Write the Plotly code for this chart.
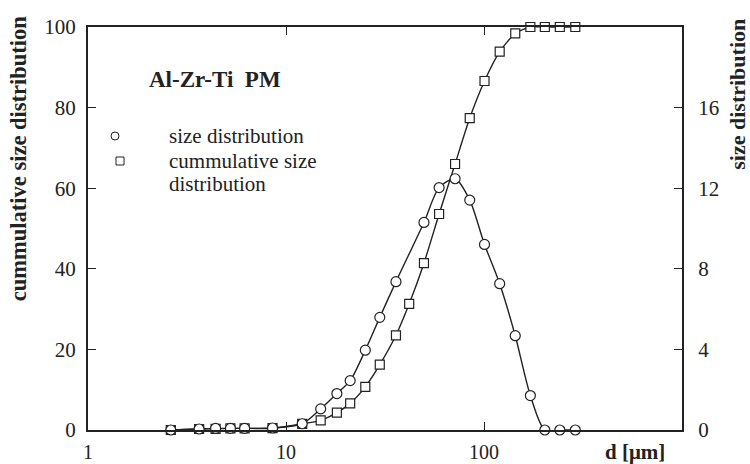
import plotly.graph_objects as go

# ---- data ----
d_um = [2.62, 3.64, 4.41, 5.24, 6.18, 8.55, 12.07, 14.97, 18.07, 21.09, 25.15, 29.76,
        35.92, 41.90, 49.74, 59.33, 71.43, 84.72, 100.6, 120.0, 143.8, 171.5, 202.9,
        241.5, 289.1]
cumulative = [0.0, 0.25, 0.3, 0.4, 0.4, 0.45, 1.5, 2.4, 4.3, 6.6, 10.7, 16.2,
              23.5, 31.3, 41.4, 53.6, 66.0, 77.4, 86.6, 93.9, 98.4, 100, 100, 100, 100]

d_size = [2.62, 3.64, 4.41, 5.24, 6.18, 8.55, 12.07, 14.97, 18.07, 21.09, 25.15, 29.76,
          35.92, 49.74, 59.33, 71.43, 84.72, 100.6, 120.0, 143.8, 171.5, 202.9,
          241.5, 289.1]
size_dist = [0.0, 0.05, 0.08, 0.08, 0.08, 0.1, 0.31, 1.05, 1.81, 2.45, 3.96, 5.59,
             7.36, 10.30, 12.03, 12.47, 11.41, 9.21, 7.26, 4.68, 1.71, 0.0, 0.0, 0.0]

x_ticks = [1, 10, 100]
y_left_ticks = [0, 20, 40, 60, 80, 100]
y_right_ticks = [0, 4, 8, 12, 16]

FONT = "Liberation Serif"
INK = "#222222"

fig = go.Figure()

fig.add_trace(go.Scatter(
    x=d_size, y=size_dist, yaxis="y2", mode="lines+markers",
    line=dict(color=INK, width=1.4, shape="spline", smoothing=0.8),
    marker=dict(symbol="circle", size=10, color="white", line=dict(color=INK, width=1.2)),
    showlegend=False, cliponaxis=False))

fig.add_trace(go.Scatter(
    x=d_um, y=cumulative, mode="lines+markers",
    line=dict(color=INK, width=1.4, shape="spline", smoothing=0.6),
    marker=dict(symbol="square", size=9, color="white", line=dict(color=INK, width=1.2)),
    showlegend=False, cliponaxis=False))

fig.update_layout(
    width=750, height=464,
    margin=dict(l=88, r=68, t=27, b=34, autoexpand=False),
    paper_bgcolor="white", plot_bgcolor="white",
    font=dict(family=FONT, size=20, color=INK),
    xaxis=dict(type="log", range=[0, 3], tickvals=x_ticks, ticktext=[str(v) for v in x_ticks],
               ticks="inside", ticklen=8, tickwidth=1.2, tickcolor=INK,
               showline=True, linewidth=2, linecolor=INK, mirror="ticks",
               showgrid=False, zeroline=False, ticklabelstandoff=3, automargin=False,
               tickfont=dict(family=FONT, size=20, color=INK)),
    yaxis=dict(range=[0, 100], tickvals=y_left_ticks,
               ticks="inside", ticklen=8, tickwidth=1.2, tickcolor=INK,
               showline=True, linewidth=2, linecolor=INK, mirror=True,
               showgrid=False, zeroline=False, ticklabelstandoff=6, automargin=False,
               tickfont=dict(family=FONT, size=21, color=INK)),
    yaxis2=dict(range=[0, 20], tickvals=y_right_ticks, overlaying="y", side="right",
                ticks="inside", ticklen=8, tickwidth=1.2, tickcolor=INK,
                showline=True, linewidth=2, linecolor=INK,
                showgrid=False, zeroline=False, ticklabelstandoff=10, automargin=False,
                tickfont=dict(family=FONT, size=21, color=INK)),
)

# axis titles and labels
fig.add_annotation(text="<b>cummulative size distribution</b>", textangle=-90,
                   xref="paper", yref="paper", x=-0.1178, y=0.672,
                   xanchor="center", yanchor="middle",
                   showarrow=False, font=dict(family=FONT, size=22.5, color=INK))
fig.add_annotation(text="<b>size distribution</b>", textangle=-90,
                   xref="paper", yref="paper", x=1.094, y=0.834,
                   xanchor="center", yanchor="middle",
                   showarrow=False, font=dict(family=FONT, size=22, color=INK))
fig.add_annotation(text="<b>d [μm]</b>", xref="paper", yref="paper",
                   x=0.921, y=-0.055, xanchor="center", yanchor="middle", showarrow=False,
                   font=dict(family=FONT, size=21, color=INK))
fig.add_annotation(text="<b>Al-Zr-Ti\u00a0 PM</b>", xref="paper", yref="paper",
                   x=0.0993, y=0.8685, xanchor="left", yanchor="middle", showarrow=False,
                   font=dict(family=FONT, size=23, color=INK))

# legend
fig.add_shape(type="circle", xref="paper", yref="paper", xsizemode="pixel", ysizemode="pixel",
              xanchor=(115 - 88) / 594, yanchor=(430 - 136) / 403, x0=-4, x1=4, y0=-4, y1=4,
              line=dict(color=INK, width=1))
fig.add_shape(type="rect", xref="paper", yref="paper", xsizemode="pixel", ysizemode="pixel",
              xanchor=(120 - 88) / 594, yanchor=(430 - 161) / 403, x0=-4, x1=4, y0=-4, y1=4,
              line=dict(color=INK, width=1))
legend_lines = [("size distribution", 136), ("cummulative size", 161), ("distribution", 184)]
for txt, ypx in legend_lines:
    fig.add_annotation(text=txt, xref="paper", yref="paper",
                       x=(167 - 88) / 594, y=(430 - ypx) / 403, xanchor="left", yanchor="middle",
                       showarrow=False, font=dict(family=FONT, size=21, color=INK))

fig.write_html("out.html")
